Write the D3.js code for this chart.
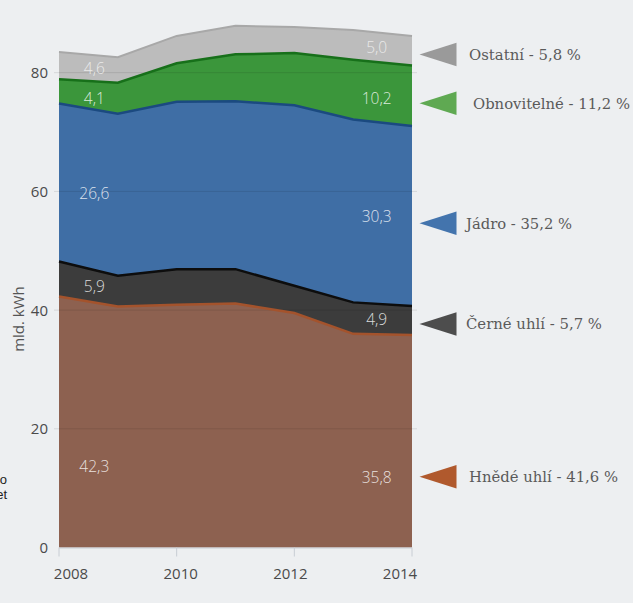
<!DOCTYPE html>
<html><head><meta charset="utf-8">
<script src="https://cdn.jsdelivr.net/npm/d3@7"></script>
<style>
html,body{margin:0;padding:0;background:#edeff1;}
svg{display:block;}
</style></head>
<body>
<svg id="c" width="633" height="603"></svg>
<script>
const years = [2008, 2009, 2010, 2011, 2012, 2013, 2014];
const hnedeUhli = [42.3, 40.6, 40.9, 41.1, 39.5, 36.0, 35.8];
const cerneUhli = [5.9, 5.2, 6.0, 5.8, 4.6, 5.3, 4.9];
const jadro = [26.6, 27.3, 28.2, 28.3, 30.4, 30.8, 30.3];
const obnovitelne = [4.1, 5.2, 6.5, 7.9, 8.8, 10.1, 10.2];
const ostatni = [4.6, 4.3, 4.6, 4.8, 4.4, 5.0, 5.0];
const seriesKeys = ["hnede", "cerne", "jadro", "obnov", "ostatni"];
const legendLabels = ["Hnědé uhlí - 41,6 %", "Černé uhlí - 5,7 %", "Jádro - 35,2 %", "Obnovitelné - 11,2 %", "Ostatní - 5,8 %"];
const yTicks = [0, 20, 40, 60, 80];
const xTicks = [2008, 2010, 2012, 2014];
const yTitle = "mld. kWh";

const areaColors = ["#8d6150", "#3c3c3c", "#3f6ea5", "#3b963b", "#bcbcbc"];
const lineColors = ["#a4532c", "#0d0d0d", "#1b4a80", "#17701a", "#a8a8a8"];
const markColors = ["#b0592d", "#4d4d4d", "#4374ad", "#5fa952", "#9a9a9a"];
const labelFrac = [0.33, 0.5, 0.48, 0.4, 0.5];

const rows = years.map((y, i) => ({
  year: y, hnede: hnedeUhli[i], cerne: cerneUhli[i], jadro: jadro[i], obnov: obnovitelne[i], ostatni: ostatni[i]
}));
const stack = d3.stack().keys(seriesKeys)(rows);

const svg = d3.select("#c");
const x = d3.scaleLinear().domain([2008, 2014]).range([59, 412]);
const y = d3.scaleLinear().domain([0, 80]).range([547.5, 72.7]);
const xLab = d3.scaleLinear().domain([2008, 2014]).range([71, 400]);

const area = d3.area().x(d => x(d.data.year)).y0(d => y(d[0])).y1(d => y(d[1]));
const line = d3.line().x(d => x(d.data.year)).y(d => y(d[1]));

svg.append("g").selectAll("path").data(stack).join("path")
  .attr("d", area).attr("fill", (d, i) => areaColors[i]);

svg.append("g").selectAll("line").data(yTicks.filter(t => t > 0)).join("line")
  .attr("x1", 54).attr("x2", 417).attr("y1", d => y(d)).attr("y2", d => y(d))
  .attr("stroke", "rgba(0,0,0,0.10)").attr("stroke-width", 1);

svg.append("g").selectAll("path").data(stack).join("path")
  .attr("d", line).attr("fill", "none")
  .attr("stroke", (d, i) => lineColors[i]).attr("stroke-width", (d, i) => i === 4 ? 2 : 2.5);

svg.append("line").attr("x1", x(2008)).attr("x2", x(2014)).attr("y1", y(0) + 0.5).attr("y2", y(0) + 0.5)
  .attr("stroke", "#c8cdd4").attr("stroke-width", 1);
svg.append("g").selectAll("line").data(xTicks).join("line")
  .attr("x1", d => x(d)).attr("x2", d => x(d)).attr("y1", y(0)).attr("y2", y(0) + 9)
  .attr("stroke", "#c8cdd4").attr("stroke-width", 1);
svg.append("g").selectAll("text").data(xTicks).join("text")
  .attr("x", d => xLab(d)).attr("y", 579).attr("text-anchor", "middle")
  .attr("font-family", "'Open Sans', sans-serif").attr("font-size", 15).attr("fill", "#4a4a4a")
  .text(d => d);

svg.append("g").selectAll("text").data(yTicks).join("text")
  .attr("x", 48).attr("y", d => y(d)).attr("dy", "0.36em").attr("text-anchor", "end")
  .attr("font-family", "'Open Sans', sans-serif").attr("font-size", 15).attr("fill", "#4a4a4a")
  .text(d => d);
svg.append("text").attr("transform", "translate(24," + y(38.5) + ") rotate(-90)")
  .attr("text-anchor", "middle").attr("font-family", "'Open Sans', sans-serif")
  .attr("font-size", 15).attr("fill", "#555").text(yTitle);

function interp(layer, xv, which) {
  const i = Math.min(Math.floor(xv - 2008), 5);
  const t = xv - 2008 - i;
  return layer[i][which] * (1 - t) + layer[i + 1][which] * t;
}
const fmt = v => String(v.toFixed(1)).replace(".", ",");
const labelX = [2008.6, 2013.4];
const labelVals = [seriesKeys.map(k => rows[0][k]), seriesKeys.map(k => rows[6][k])];
const vg = svg.append("g");
labelX.forEach((lx, j) => {
  stack.forEach((layer, s) => {
    const lo = interp(layer, lx, 0), hi = interp(layer, lx, 1);
    vg.append("text").attr("x", x(lx)).attr("y", y(lo + (hi - lo) * labelFrac[s]))
      .attr("dy", "0.36em").attr("text-anchor", "middle")
      .attr("font-family", "'Open Sans', sans-serif").attr("font-weight", 300).attr("font-size", 15.5)
      .attr("fill", "#ffffff").attr("fill-opacity", s === 4 ? 0.7 : 0.82)
      .text(fmt(labelVals[j][s]));
  });
});

const legendY = [476.7, 324, 223.3, 103.3, 54.5];
const legendX = [469, 466, 466, 473, 469];
const legendW = [149, 136, 106, 157, 112];
const lg = svg.append("g");
legendLabels.forEach((t, i) => {
  const cy = legendY[i];
  lg.append("path").attr("d", `M419.5,${cy} L456.5,${cy - 11.7} L456.5,${cy + 11.7} Z`).attr("fill", markColors[i]);
  lg.append("text").attr("x", legendX[i]).attr("y", cy).attr("dy", "0.36em")
    .attr("font-family", "'DejaVu Serif', serif").attr("font-size", 15)
    .attr("textLength", legendW[i]).attr("lengthAdjust", "spacingAndGlyphs")
    .attr("fill", "#5a5a5a").text(t);
});

svg.append("text").attr("x", 7).attr("y", 484).attr("text-anchor", "end")
  .attr("font-family", "'Liberation Sans', sans-serif").attr("font-size", 13).attr("fill", "#222").text("o");
svg.append("text").attr("x", 7).attr("y", 499).attr("text-anchor", "end")
  .attr("font-family", "'Liberation Sans', sans-serif").attr("font-size", 13).attr("fill", "#222").text("et");
</script>
</body></html>
